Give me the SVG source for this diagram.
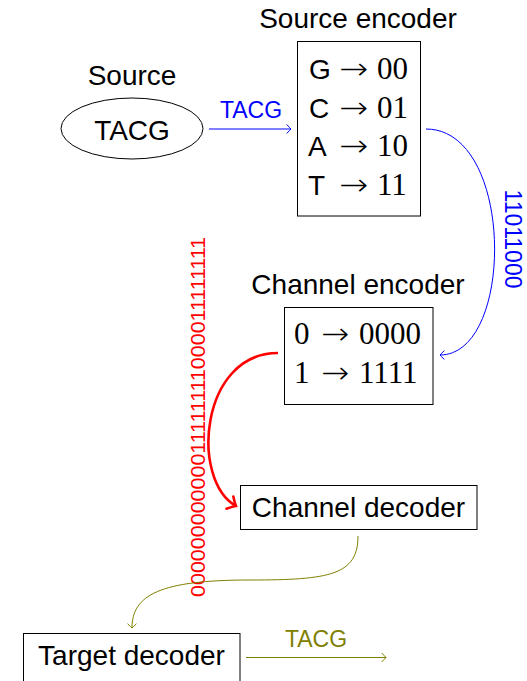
<svg xmlns="http://www.w3.org/2000/svg" width="527" height="681" viewBox="0 0 527 681">
<style>
.sf{font-family:"Liberation Sans",Arial,sans-serif;font-size:28px;fill:#000}
.rm{font-family:"Liberation Serif","Times New Roman",serif;font-size:31px;fill:#000}
.ar{font-family:"DejaVu Sans",sans-serif;font-weight:200;font-size:30px;fill:#000}
.c{text-anchor:middle}
.box{fill:none;stroke:#000;stroke-width:1}
.lbl{font-family:"Liberation Sans",Arial,sans-serif;font-size:23px}
.edge{fill:none}
</style>
<defs>
<marker id="ab" markerUnits="userSpaceOnUse" markerWidth="12" markerHeight="12" viewBox="-6 -6 12 12" refX="0" refY="0" orient="auto" overflow="visible">
<path d="M-4,-4.2 Q-1,-1 0,0 Q-1,1 -4,4.2" fill="none" stroke="#0000ff" stroke-width="1" stroke-linecap="round"/>
</marker>
<marker id="ar" markerUnits="userSpaceOnUse" markerWidth="20" markerHeight="20" viewBox="-10 -10 20 20" refX="0" refY="0" orient="auto" overflow="visible">
<path d="M-7,-7 Q-2,-1.5 0,0 Q-2,1.5 -7,7" fill="none" stroke="#ff0000" stroke-width="2.6" stroke-linecap="round"/>
</marker>
<marker id="ao" markerUnits="userSpaceOnUse" markerWidth="12" markerHeight="12" viewBox="-6 -6 12 12" refX="0" refY="0" orient="auto" overflow="visible">
<path d="M-4,-4.2 Q-1,-1 0,0 Q-1,1 -4,4.2" fill="none" stroke="#808000" stroke-width="1" stroke-linecap="round"/>
</marker>
</defs>

<g id="source">
<text class="sf c" x="132" y="85">Source</text>
<ellipse cx="132" cy="128.5" rx="71" ry="30.5" class="box"/>
<text class="sf c" x="132" y="140">TACG</text>
</g>

<g id="source-encoder">
<text class="sf c" x="358" y="28">Source encoder</text>
<rect class="box" x="297.5" y="41.5" width="123" height="174.5"/>
<text class="sf" x="309" y="79">G</text><text class="ar" x="339" y="79" textLength="29" lengthAdjust="spacingAndGlyphs">→</text><text class="rm" x="377" y="79">00</text>
<text class="sf" x="309" y="117.5">C</text><text class="ar" x="339" y="117.5" textLength="29" lengthAdjust="spacingAndGlyphs">→</text><text class="rm" x="377" y="117.5">01</text>
<text class="sf" x="308" y="156">A</text><text class="ar" x="339" y="156" textLength="29" lengthAdjust="spacingAndGlyphs">→</text><text class="rm" x="377" y="156">10</text>
<text class="sf" x="308" y="195">T</text><text class="ar" x="339" y="195" textLength="29" lengthAdjust="spacingAndGlyphs">→</text><text class="rm" x="377" y="195">11</text>
</g>

<g id="channel-encoder">
<text class="sf c" x="358" y="294">Channel encoder</text>
<rect class="box" x="284.5" y="307.5" width="148.5" height="97"/>
<text class="rm" x="294" y="344">0</text><text class="ar" x="321" y="344" textLength="28" lengthAdjust="spacingAndGlyphs">→</text><text class="rm" x="359" y="344">0000</text>
<text class="rm" x="294" y="383">1</text><text class="ar" x="321" y="383" textLength="28" lengthAdjust="spacingAndGlyphs">→</text><text class="rm" x="359" y="383">1111</text>
</g>

<g id="channel-decoder">
<rect class="box" x="240.5" y="485.5" width="236.5" height="44"/>
<text class="sf c" x="358.5" y="517">Channel decoder</text>
</g>

<g id="target-decoder">
<rect class="box" x="23.5" y="633.5" width="216.5" height="60"/>
<text class="sf c" x="131.5" y="665">Target decoder</text>
</g>

<g id="connectors">
<path class="edge" d="M209,129 L291,129" stroke="#0000ff" stroke-width="1" marker-end="url(#ab)"/>
<text class="lbl c" x="251" y="118" fill="#0000ff">TACG</text>

<path class="edge" d="M426,129 C515,129 515,355 440,355" stroke="#0000ff" stroke-width="1" marker-end="url(#ab)"/>
<text class="lbl c" transform="translate(505,239) rotate(90)" fill="#0000ff">11011000</text>

<path class="edge" d="M278,353 C200,353 190,480 236,506" stroke="#ff0000" stroke-width="2.6" marker-end="url(#ar)"/>
<text class="c" transform="translate(205,417) rotate(-90)" fill="#ff0000" style="font-family:'Liberation Sans',Arial,sans-serif;font-size:20px" textLength="360" lengthAdjust="spacingAndGlyphs">00000000000011111111000011111111</text>

<path class="edge" d="M358,536 C358,575 330,580 250,580 C160,580 132,595 132,628" stroke="#808000" stroke-width="1" marker-end="url(#ao)"/>

<path class="edge" d="M246,657.5 L386,657.5" stroke="#808000" stroke-width="1" marker-end="url(#ao)"/>
<text class="lbl c" x="316" y="647" fill="#808000">TACG</text>
</g>
</svg>
